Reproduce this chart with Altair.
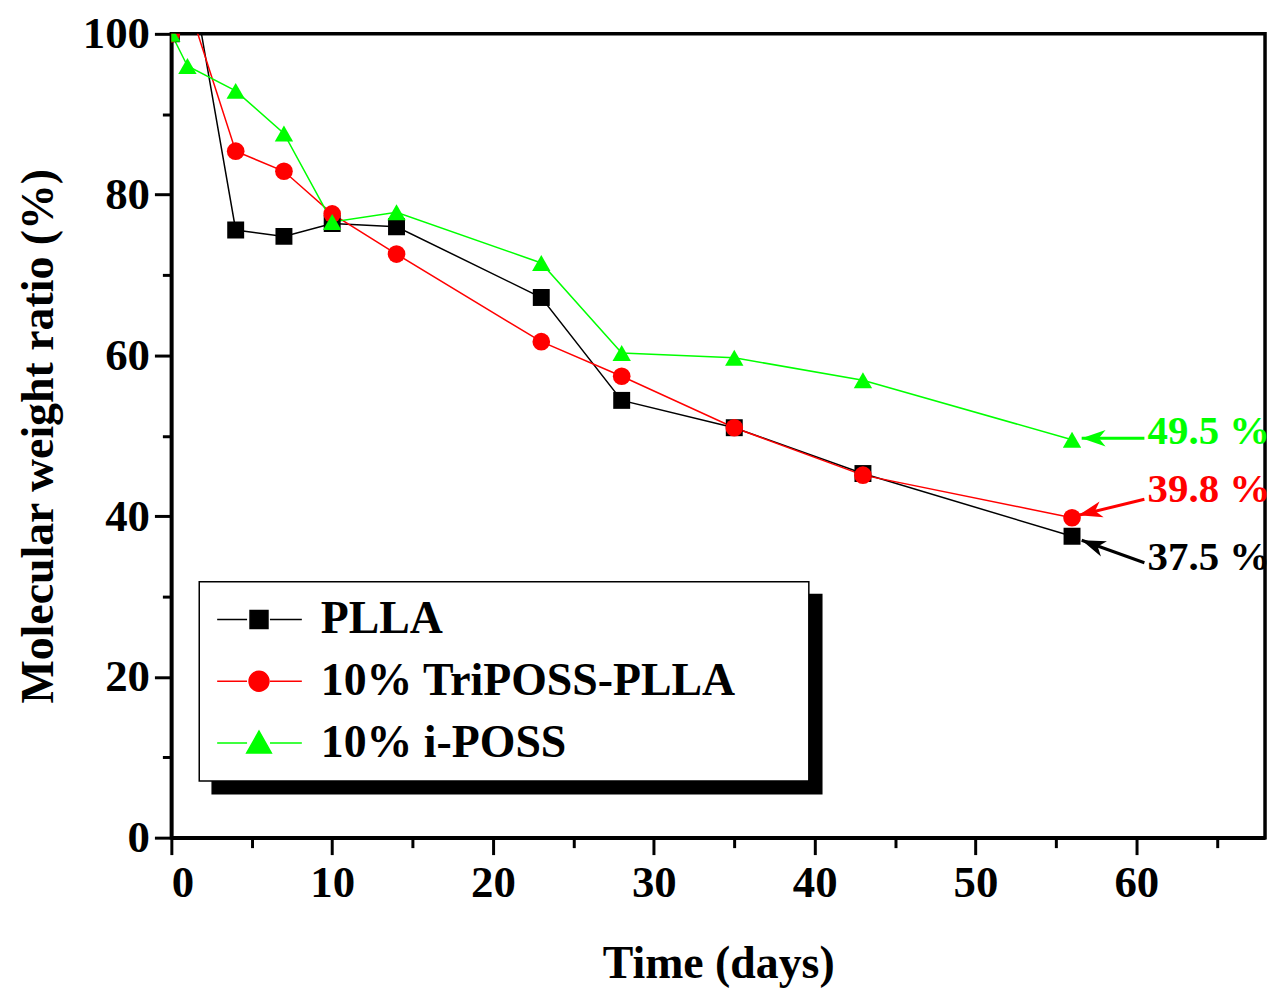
import altair as alt
import pandas as pd

# ---------------- data ----------------
series_names = ["PLLA", "10% TriPOSS-PLLA", "10% i-POSS"]
series_colors = ["#000000", "#ff0000", "#00ff00"]

days = [0, 1, 4, 7, 10, 14, 23, 28, 35, 43, 56]
plla = [100, 110, 75.6, 74.8, 76.4, 76.0, 67.2, 54.4, 51.0, 45.3, 37.5]
triposs = [100, 104, 85.4, 82.9, 77.6, 72.6, 61.7, 57.4, 51.0, 45.1, 39.8]
iposs = [100, 96.0, 92.9, 87.6, 76.6, 77.8, 71.5, 60.3, 59.7, 56.9, 49.5]

ann_labels = ["49.5 %", "39.8 %", "37.5 %"]
ann_colors = ["#00ff00", "#ff0000", "#000000"]
ann_text_x = [60.7, 60.7, 60.7]
ann_text_y = [50.4, 43.2, 34.8]
arrow_x1 = [60.5, 60.5, 60.5]
arrow_y1 = [49.7, 42.1, 34.2]
arrow_x2 = [56.6, 56.4, 56.6]
arrow_y2 = [49.7, 40.1, 37.0]
arrow_angle = [270, 255.5, 291.3]

x_major = [0, 10, 20, 30, 40, 50, 60]
x_minor = [5, 15, 25, 35, 45, 55, 65]
y_major = [0, 20, 40, 60, 80, 100]
y_minor = [10, 30, 50, 70, 90]

rows = []
for name, vals in zip(series_names, [plla, triposs, iposs]):
    for d, v in zip(days, vals):
        rows.append({"series": name, "day": d, "ratio": v})
df = pd.DataFrame(rows)

ann = pd.DataFrame({
    "label": ann_labels, "col": ann_colors,
    "tx": ann_text_x, "ty": ann_text_y,
    "ax1": arrow_x1, "ay1": arrow_y1, "ax2": arrow_x2, "ay2": arrow_y2,
    "ang": arrow_angle,
})
leg_df = pd.DataFrame({"series": series_names})

# ---------------- styles ----------------
FONT = "Liberation Serif"
xs = alt.Scale(domain=[0, 68], nice=False, zero=False)
ys = alt.Scale(domain=[0, 100], nice=False)

legend_paths = [
    "M-1,0L0.5,0M1.65,0L3.25,0M0.65,-0.45L1.55,-0.45L1.55,0.45L0.65,0.45Z",
    "M-1,0L0.5,0M1.65,0L3.25,0M0.6,0A0.5,0.5,0,1,0,1.6,0A0.5,0.5,0,1,0,0.6,0Z",
    "M-1,0L0.5,0M1.65,0L3.25,0M1.1,-0.6L1.72,0.5L0.48,0.5Z",
]
arrowhead = "M0,0L-0.55,1.6L0,1.15L0.55,1.6Z"
PAD = "\u00a0" * 5 + "\u200b"

def make_legend(lx, ly, fill, label_opacity, z):
    return alt.Legend(
        orient="none", legendX=lx, legendY=ly, title=None,
        fillColor=fill, strokeColor="black", padding=15,
        symbolSize=1600, symbolStrokeWidth=1.5, symbolOpacity=1, labelOffset=61,
        labelFont=FONT, labelFontWeight="bold", labelFontSize=46, labelLimit=2000,
        labelColor="black", labelOpacity=label_opacity, zindex=z,
        labelExpr="datum.label + '" + PAD + "'",
    )

color_enc = alt.Color("series:N", scale=alt.Scale(domain=series_names, range=series_colors), legend=None)

major_x = alt.Axis(values=x_major, tickSize=17, title="Time (days)", labelPadding=6,
                   titlePadding=36, format="d", orient="bottom")
major_y = alt.Axis(values=y_major, tickSize=17, title="Molecular weight ratio (%)",
                   labelPadding=5, titlePadding=20, format="d", orient="left")
minor_x = alt.Axis(values=x_minor, tickSize=10, labels=False, title=None, domain=False, orient="bottom")
minor_y = alt.Axis(values=y_minor, tickSize=9, labels=False, title=None, domain=False, orient="left")

lines = alt.Chart(df).mark_line(strokeWidth=1.5, clip=True).encode(
    x=alt.X("day:Q", scale=xs, axis=major_x),
    y=alt.Y("ratio:Q", scale=ys, axis=major_y),
    color=color_enc,
    detail="series:N",
)

points = alt.Chart(df).mark_point(filled=True, opacity=1, clip=True).encode(
    x=alt.X("day:Q", scale=xs, axis=minor_x),
    y=alt.Y("ratio:Q", scale=ys, axis=minor_y),
    color=color_enc,
    shape=alt.Shape("series:N", scale=alt.Scale(domain=series_names,
                    range=["square", "circle", "triangle-up"]), legend=None),
    size=alt.Size("series:N", scale=alt.Scale(domain=series_names, range=[289, 340, 460]), legend=None),
)

L_main = make_legend(28, 550, "white", 1, 2)
L_shadow = make_legend(41, 563, "black", 0, 1)

legend_layer = alt.Chart(leg_df).transform_filter("false").mark_point(filled=True).encode(
    shape=alt.Shape("series:N", scale=alt.Scale(domain=series_names, range=legend_paths), legend=L_main),
    fill=alt.Fill("series:N", scale=alt.Scale(domain=series_names, range=series_colors), legend=L_main),
    stroke=alt.Stroke("series:N", scale=alt.Scale(domain=series_names, range=series_colors), legend=L_main),
)

shadow_layer = alt.Chart(leg_df).transform_filter("false").mark_point(filled=True).encode(
    shape=alt.Shape("series:N", scale=alt.Scale(domain=series_names, range=legend_paths), legend=L_shadow),
    color=alt.value("black"),
)

arrows = alt.Chart(ann).mark_rule(strokeWidth=3).encode(
    x=alt.X("ax1:Q", scale=xs, axis=None), y=alt.Y("ay1:Q", scale=ys, axis=None),
    x2="ax2:Q", y2="ay2:Q",
    color=alt.Color("col:N", scale=None),
)

heads = alt.Chart(ann).mark_point(shape=arrowhead, size=900, strokeWidth=1, filled=True, opacity=1).encode(
    x=alt.X("ax2:Q", scale=xs, axis=None), y=alt.Y("ay2:Q", scale=ys, axis=None),
    angle=alt.Angle("ang:Q", scale=None),
    color=alt.Color("col:N", scale=None),
)

texts = alt.Chart(ann).mark_text(align="left", baseline="middle", font=FONT,
                                 fontWeight="bold", fontSize=41).encode(
    x=alt.X("tx:Q", scale=xs, axis=None), y=alt.Y("ty:Q", scale=ys, axis=None),
    text="label:N",
    color=alt.Color("col:N", scale=None),
)

chart = alt.layer(lines, points, shadow_layer, legend_layer, arrows, heads, texts).resolve_scale(
    color="independent", shape="independent", fill="independent", stroke="independent",
    size="independent",
).resolve_axis(x="independent", y="independent").resolve_legend(
    shape="independent", fill="independent", stroke="independent", color="independent",
    size="independent",
).properties(
    width=1098, height=807,
    padding={"left": 164, "top": 24, "right": 8, "bottom": 150},
    autosize=alt.AutoSizeParams(type="none"),
).configure_view(
    stroke="black", strokeWidth=3.5,
).configure_axis(
    grid=False, domainColor="black", domainWidth=3.5, tickColor="black", tickWidth=3,
    labelFont=FONT, labelFontWeight="bold", labelFontSize=45, labelColor="black",
    titleFont=FONT, titleFontWeight="bold", titleFontSize=46, titleColor="black",
).configure_legend(
    strokeWidth=1.5, rowPadding=16,
)

chart.save("out.html", embed_options={"renderer": "svg", "actions": False})
